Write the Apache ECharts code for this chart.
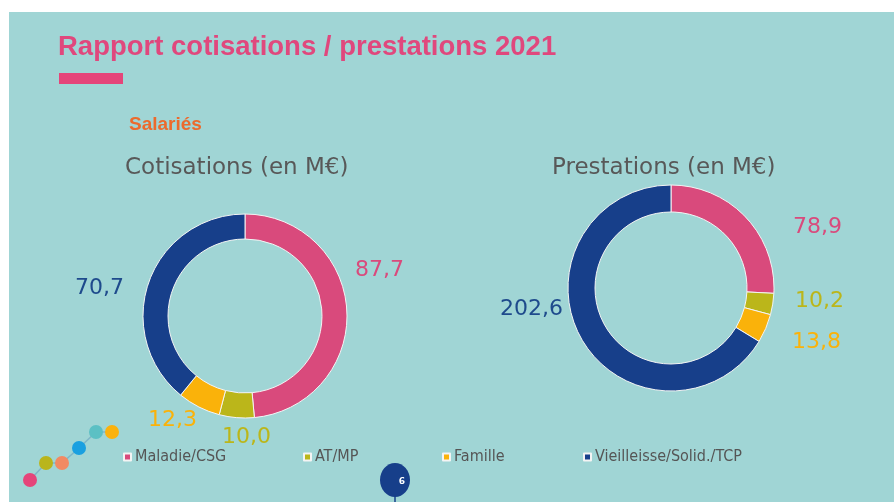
<!DOCTYPE html>
<html><head><meta charset="utf-8">
<script src="https://cdn.jsdelivr.net/npm/echarts@6/dist/echarts.min.js"></script>
<style>html,body{margin:0;padding:0;background:#fff;}#c{width:894px;height:502px;}</style>
</head><body><div id="c"></div>
<script>
const categories = ['Maladie/CSG', 'AT/MP', 'Famille', 'Vieilleisse/Solid./TCP'];
const cotisations = [87.7, 10.0, 12.3, 70.7];
const prestations = [78.9, 10.2, 13.8, 202.6];
const colors = ['#D94A7C', '#BBB61A', '#FAB20A', '#173F8A'];
const labelColors = ['#D94A7C', '#BBB61A', '#FAB20A', '#1E4A8C'];
// label anchor positions (left x, middle y)
const cotLabelPos = [[355, 270], [222, 437], [148, 420], [75, 288]];
const preLabelPos = [[793, 227], [795, 301], [792, 342], [500, 309]];
const legendLeft = [118, 298, 437, 578];

const fmt = v => v.toFixed(1).replace('.', ',');
const numFont = 'DejaVu Sans';

function pieSeries(name, values, center, radius, pos) {
  return {
    name: name, type: 'pie', center: center, radius: radius,
    startAngle: 90, clockwise: true, silent: true,
    itemStyle: { borderColor: '#f4f4f4', borderWidth: 1 },
    label: {
      show: true, position: 'outside', fontFamily: numFont, fontSize: 22,
      formatter: p => fmt(p.value)
    },
    labelLine: { show: false },
    labelLayout: p => ({ x: pos[p.dataIndex][0], y: pos[p.dataIndex][1], align: 'left', verticalAlign: 'middle' }),
    data: values.map((v, i) => ({
      name: categories[i], value: v,
      itemStyle: { color: colors[i] },
      label: { color: labelColors[i] }
    }))
  };
}

const chart = echarts.init(document.getElementById('c'), null, { renderer: 'canvas' });
const dots = [[30, 480, '#E5457A'], [46, 463, '#B9B51C'], [62, 463, '#F28A63'], [79, 448, '#1AA0E0'], [96, 432, '#5CC0C4'], [112, 432, '#FBB20D']];
const graphics = [
  { type: 'rect', shape: { x: 9, y: 12, width: 885, height: 490 }, style: { fill: '#A0D5D5' }, z: -10 },
  { type: 'rect', shape: { x: 59, y: 73, width: 64, height: 11 }, style: { fill: '#E5457A' } },
  { type: 'polyline', shape: { points: dots.map(d => [d[0], d[1]]) }, style: { stroke: '#7FB6C8', lineWidth: 1.5, fill: null } },
  { type: 'line', shape: { x1: 395, y1: 490, x2: 395, y2: 502 }, style: { stroke: '#173F8A', lineWidth: 1.5 } },
  { type: 'ellipse', shape: { cx: 395, cy: 480, rx: 15, ry: 17 }, style: { fill: '#173F8A' } },
  { type: 'text', x: 402, y: 482, style: { text: '6', fill: '#fff', font: 'bold 9px "DejaVu Sans"', align: 'center', verticalAlign: 'middle' } }
];
dots.forEach(d => graphics.push({ type: 'circle', shape: { cx: d[0], cy: d[1], r: 7 }, style: { fill: d[2] } }));

const legends = categories.map((c, i) => ({
  data: [c], left: legendLeft[i], top: 444, icon: 'rect', itemWidth: 7, itemHeight: 7, itemGap: 4,
  selectedMode: false,
  textStyle: { color: '#555', fontSize: 16, fontFamily: 'DejaVu Sans Condensed', padding: [0, 0, 0, -1] }
}));

chart.setOption({
  animation: false,
  backgroundColor: '#ffffff',
  title: [
    { text: 'Rapport cotisations / prestations 2021', left: 53, top: 28,
      textStyle: { color: '#E0487D', fontSize: 27.5, fontWeight: 'bold', fontFamily: 'Liberation Sans' } },
    { text: 'Salariés', left: 124, top: 110,
      textStyle: { color: '#EC6A2C', fontSize: 19, fontWeight: 'bold', fontFamily: 'Liberation Sans' } },
    { text: 'Cotisations (en M€)', left: 120, top: 152,
      textStyle: { color: '#585858', fontSize: 23, fontWeight: 'normal', fontFamily: 'DejaVu Sans' } },
    { text: 'Prestations (en M€)', left: 547, top: 152,
      textStyle: { color: '#585858', fontSize: 23, fontWeight: 'normal', fontFamily: 'DejaVu Sans' } }
  ],
  legend: legends,
  graphic: graphics,
  series: [
    pieSeries('Cotisations', cotisations, [245, 316], [77, 102], cotLabelPos),
    pieSeries('Prestations', prestations, [671, 288], [76, 103], preLabelPos)
  ]
});
</script></body></html>
